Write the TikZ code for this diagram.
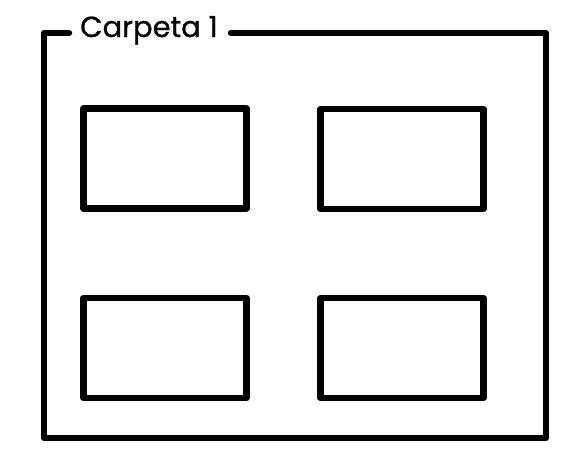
\documentclass[tikz,border=0pt]{standalone}
\usepackage{fontspec}
\setmainfont{Poppins}
\begin{document}
\begin{tikzpicture}[x=1pt,y=-1pt,
  frame/.style={line width=6.5pt,line join=round,line cap=round},
  card/.style={draw,line width=6.5pt,line join=round,minimum width=163pt,minimum height=100pt,inner sep=0pt}]
\useasboundingbox (0,0) rectangle (582,469);
\coordinate (gl) at (69,33);
\coordinate (gr) at (231,33);
\coordinate (tl) at (44,33);
\coordinate (tr) at (546,33);
\coordinate (br) at (546,438);
\coordinate (bl) at (44,438);
\draw[frame] (gl) -- (tl) -- (bl) -- (br) -- (tr) -- (gr);
\node[anchor=base,font=\fontsize{29}{34}\selectfont\addfontfeature{FakeBold=0.8},inner sep=0pt] (title) at (149,37) {Carpeta 1};
\node[card] (a) at (165,158.5) {};
\node[card] (b) at (402,159) {};
\node[card] (c) at (165,348) {};
\node[card] (d) at (402,348) {};
\end{tikzpicture}
\end{document}
